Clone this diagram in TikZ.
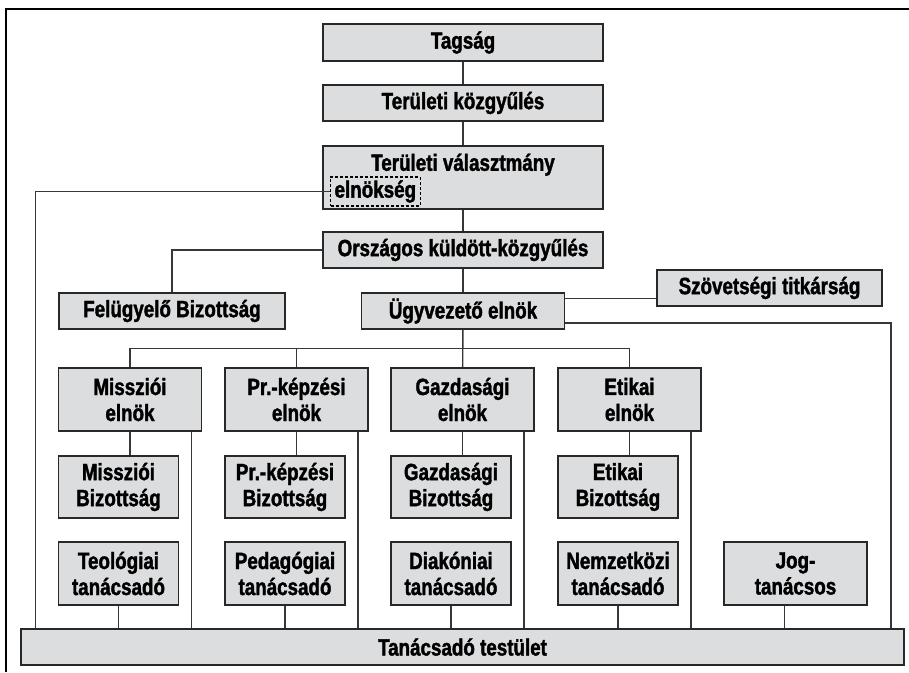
\documentclass[tikz,border=0pt]{standalone}
\usepackage{fontspec}
\setmainfont{Liberation Sans}[FakeStretch=0.8, BoldFeatures={FakeBold=1.6}]
\definecolor{boxgray}{RGB}{220,221,223}
\definecolor{boxline}{RGB}{40,40,40}
\definecolor{connline}{RGB}{55,55,55}
\newcommand{\labelfont}{\fontsize{23.5}{26}\selectfont\bfseries}

\begin{document}
\begin{tikzpicture}[x=1pt, y=-1pt,
    box/.style={draw=boxline, fill=boxgray, line width=1.6pt, inner sep=0pt, align=center, font=\labelfont},
    conn/.style={draw=connline, line width=1.4pt},
]
\useasboundingbox (0,0) rectangle (909,672);

% frame
\draw[line width=1.2pt] (6,672) -- (6,9) -- (909,9);

% top chain
\node[box, minimum width=280pt, minimum height=37pt] (tag) at (463,42.5) {Tagság};
\node[box, minimum width=280pt, minimum height=36pt] (kozgy) at (463,103) {Területi közgyűlés};
\node[box, minimum width=280pt, text height=25pt, text depth=38pt, anchor=north] (valaszt) at (463,145) {Területi választmány};
\node[draw=black, dashed, dash pattern=on 3pt off 2pt, line width=1.2pt, inner xsep=4pt, minimum height=27pt, font=\labelfont, anchor=west] (elnokseg) at (330,191.5) {elnökség};
\node[box, minimum width=280pt, minimum height=36pt] (orszagos) at (463,250) {Országos küldött-közgyűlés};

% second row
\node[box, minimum width=226pt, minimum height=36pt] (felugy) at (172,311) {Felügyelő Bizottság};
\node[box, minimum width=203pt, minimum height=36pt] (ugyv) at (463,311) {Ügyvezető elnök};
\node[box, minimum width=225pt, minimum height=36pt] (szov) at (769.5,288) {Szövetségi titkárság};

% bottom
\node[box, minimum width=883pt, minimum height=36pt] (testulet) at (462.5,647) {Tanácsadó testület};
\node[box, minimum width=143pt, minimum height=63pt] (jog) at (795.5,573.5) {Jog-\\tanácsos};

% columns
\foreach \n/\x/\head/\adv in {1/130/Missziói/Teológiai, 2/296.5/Pr.-képzési/Pedagógiai, 3/462.5/Gazdasági/Diakóniai, 4/629.5/Etikai/Nemzetközi}{
\node[box, minimum width=143pt, minimum height=63pt] (e\n) at (\x,399.5) {\head\\elnök};
\node[box, minimum width=120pt, minimum height=62pt] (b\n) at (\x-11.5,487) {\head\\Bizottság};
\node[box, minimum width=120pt, minimum height=63pt] (t\n) at (\x-11.5,573.5) {\adv\\tanácsadó};
\draw[conn] (e\n.south) -- (e\n.south |- b\n.north);
\draw[conn] ([xshift=-11pt]e\n.south east) -- ([xshift=-11pt]e\n.south east |- testulet.north);
\draw[conn] (t\n) -- (t\n |- testulet.north);
}

% connectors
\draw[conn] (tag) -- (kozgy);
\draw[conn] (kozgy) -- (valaszt);
\draw[conn] (valaszt) -- (orszagos);
\draw[conn] (orszagos) -- (ugyv);
\draw[conn] (orszagos.west) -| (felugy.north);
\draw[conn] ([yshift=-6pt]ugyv.north east) -- ([yshift=-6pt]ugyv.north east -| szov.west);
\draw[conn] ([yshift=7pt]ugyv.south east) -| ([xshift=-14pt]testulet.north east);
\draw[conn] (elnokseg.west) -| ([xshift=15pt]testulet.north west);
\draw[conn] ([xshift=-11pt]jog.south) -- ([xshift=-11pt]jog.south |- testulet.north);

% bus
\draw[conn] (ugyv) -- (e3);
\draw[conn] (e1.north) -- ++(0,-19) -| (e4.north);
\draw[conn] (e2.north) -- ++(0,-19);
\end{tikzpicture}
\end{document}
